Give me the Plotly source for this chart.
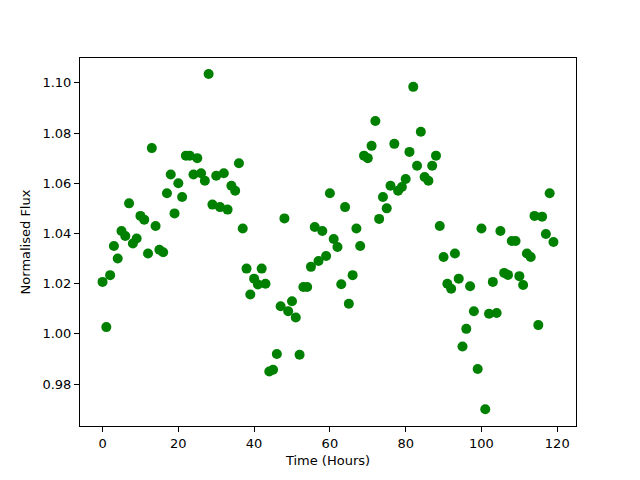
import plotly.graph_objects as go

hours = list(range(120))
flux = [
    1.0207, 1.0027, 1.0234, 1.035, 1.030, 1.041, 1.039, 1.052, 1.036, 1.038,
    1.047, 1.0455, 1.032, 1.074, 1.043, 1.0335, 1.0325, 1.056, 1.0635, 1.048,
    1.060, 1.0545, 1.071, 1.071, 1.0635, 1.070, 1.064, 1.061, 1.1035, 1.0515,
    1.063, 1.0505, 1.064, 1.0495, 1.059, 1.057, 1.068, 1.042, 1.026, 1.0157,
    1.022, 1.0197, 1.026, 1.020, 0.985, 0.9857, 0.992, 1.011, 1.046, 1.009,
    1.013, 1.0065, 0.9917, 1.0187, 1.0187, 1.0267, 1.0426, 1.029, 1.041, 1.031,
    1.056, 1.0378, 1.0346, 1.0198, 1.0505, 1.012, 1.0234, 1.042, 1.035, 1.071,
    1.070, 1.0749, 1.0848, 1.0458, 1.0545, 1.050, 1.059, 1.0757, 1.057, 1.0585,
    1.0617, 1.0725, 1.0984, 1.067, 1.0805, 1.0625, 1.061, 1.067, 1.071, 1.043,
    1.0306, 1.020, 1.018, 1.032, 1.022, 0.995, 1.002, 1.019, 1.009, 0.986,
    1.042, 0.970, 1.008, 1.0207, 1.0083, 1.041, 1.0243, 1.0235, 1.037, 1.037,
    1.023, 1.0195, 1.032, 1.0306, 1.047, 1.0035, 1.0467, 1.0398, 1.056, 1.0366,
]

x_ticks = [0, 20, 40, 60, 80, 100, 120]
y_ticks = [0.98, 1.00, 1.02, 1.04, 1.06, 1.08, 1.10]

fig = go.Figure(go.Scatter(
    x=hours, y=flux, mode="markers",
    marker=dict(color="#008000", size=10, line=dict(width=0)),
))

axis_common = dict(
    showgrid=False, zeroline=False, showline=True, linecolor="black", linewidth=1,
    mirror=True, ticks="outside", ticklen=5, tickwidth=1, tickcolor="black",
    automargin=False,
    tickfont=dict(family="DejaVu Sans", size=13, color="black"),
)

fig.update_layout(
    width=632, height=472,
    margin=dict(l=72, r=64, t=50, b=54),
    paper_bgcolor="white", plot_bgcolor="white",
    showlegend=False,
    font=dict(family="DejaVu Sans", size=13, color="black"),
    xaxis=dict(range=[-5.95, 124.95], tickvals=x_ticks,
               ticktext=[str(v) for v in x_ticks],
               title=dict(text="Time (Hours)", standoff=6,
                          font=dict(family="DejaVu Sans", size=13)),
               **axis_common),
    yaxis=dict(range=[0.9633, 1.1099], tickvals=y_ticks,
               ticktext=[f"{v:.2f}" for v in y_ticks],
               title=dict(text="Normalised Flux", standoff=8,
                          font=dict(family="DejaVu Sans", size=13)),
               **axis_common),
)

fig.write_html("out.html")
